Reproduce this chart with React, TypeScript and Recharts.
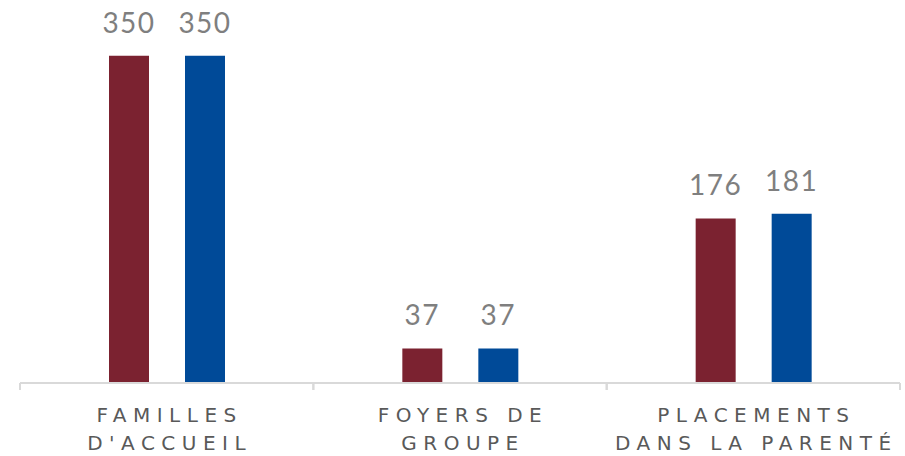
import { BarChart, Bar, XAxis, YAxis, LabelList } from 'recharts';

const categories = [["FAMILLES", "D'ACCUEIL"], ['FOYERS DE', 'GROUPE'], ['PLACEMENTS', 'DANS LA PARENTÉ']];
const seriesA = [350, 37, 176];
const seriesB = [350, 37, 181];

const data = categories.map((c, i) => ({ name: c.join('\n'), a: seriesA[i], b: seriesB[i] }));

// category label plus the small separator ticks at both band edges
function CategoryTick({ x, y, payload }: any) {
  const lines = String(payload.value).split('\n');
  const half = payload.offset || 0;
  return (
    <g>
      <line x1={x - half} x2={x - half} y1={y - 8} y2={y - 1} stroke="#d9d9d9" strokeWidth={2} />
      <line x1={x + half} x2={x + half} y1={y - 8} y2={y - 1} stroke="#d9d9d9" strokeWidth={2} />
      <text
        x={x}
        y={y}
        textAnchor="middle"
        fill="#595959"
        fontSize={20}
        fontFamily="'DejaVu Sans', sans-serif"
        letterSpacing={6.5}
      >
        {lines.map((l, i) => (
          <tspan key={i} x={x + 3} dy={i === 0 ? 31 : 28}>
            {l}
          </tspan>
        ))}
      </text>
    </g>
  );
}

const labelProps = {
  position: 'top' as const,
  offset: 23,
  fill: '#7f7f7f',
  fontSize: 28,
  fontFamily: 'Lato, sans-serif',
  letterSpacing: 1.5,
};

export default function App() {
  return (
    <div style={{ position: 'absolute', left: 0, top: 0, width: 905, height: 456, background: '#fff' }}>
      <BarChart
        width={905}
        height={456}
        data={data}
        margin={{ top: 9, right: 5, left: 20, bottom: 0 }}
        barSize={40}
        barGap={36}
      >
        <XAxis
          dataKey="name"
          interval={0}
          axisLine={{ stroke: '#d9d9d9', strokeWidth: 2 }}
          tickLine={false}
          tick={<CategoryTick />}
          height={73}
        />
        <YAxis hide domain={[0, 400]} />
        <Bar dataKey="a" fill="#7b2230" isAnimationActive={false}>
          <LabelList dataKey="a" {...labelProps} />
        </Bar>
        <Bar dataKey="b" fill="#004a98" isAnimationActive={false}>
          <LabelList dataKey="b" {...labelProps} />
        </Bar>
      </BarChart>
    </div>
  );
}
